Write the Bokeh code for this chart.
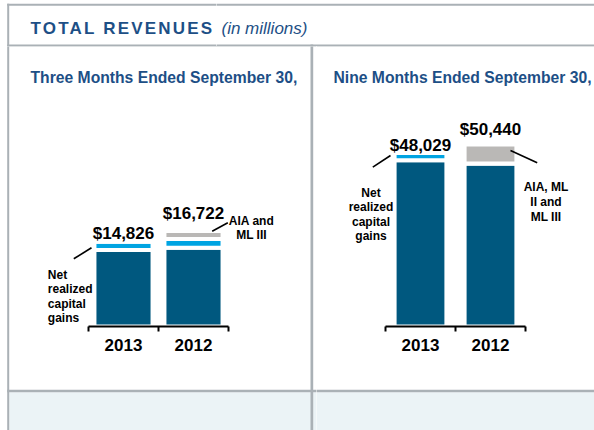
from bokeh.plotting import figure
from bokeh.models import (Range1d, FactorRange, CategoricalAxis, LinearAxis, FixedTicker,
                          ColumnDataSource)
from bokeh.layouts import column, row
from bokeh.embed import file_html
from bokeh.resources import INLINE
from bokeh.core.properties import value

# ---------------- data ----------------
years = ["2013", "2012"]
base_3m = [13390, 13790]
gains_3m = [1436, 1522]
aia_3m = [0, 1410]
total_3m = [14826, 16722]

base_9m = [46065, 45151]
gains_9m = [1964, 0]
aia_9m = [0, 5289]
total_9m = [48029, 50440]

title_text = "TOTAL REVENUES"
title_unit = "(in millions)"
panel_titles = ["Three Months Ended September 30,", "Nine Months Ended September 30,"]
note_gains = ["Net", "realized", "capital", "gains"]
note_aia_3m = ["AIA and", "ML III"]
note_aia_9m = ["AIA, ML", "II and", "ML III"]

# ---------------- styles ----------------
FONT = "Liberation Sans"
TXT_BLUE = "#1D4F86"
DARK = "#00587F"
LIGHT = "#00A4E2"
GRAY = "#BAB8B6"
RULE = "#AAB1B6"
STRIP = "#EBF3F6"

PAGE_W, PAGE_H = 594, 430
AXIS_Y = 326          # page y of the bars' baseline
PANEL_TOP = 46
SPLIT = 316           # page x where the two chart figures meet
UNIT = 70             # pixels per category


def base_fig(x0, x1, y0, y1, x_range=None, y_range=None, xmap=None):
    xmap = xmap or (lambda X: X)
    p = figure(width=x1 - x0, height=y1 - y0,
               x_range=x_range if x_range is not None else Range1d(x0, x1),
               y_range=y_range if y_range is not None else Range1d(y1, y0),
               output_backend="svg", toolbar_location=None, min_border=0,
               x_axis_type=None, y_axis_type=None)
    p.extra_y_ranges = {"page": Range1d(y1, y0)}
    p.outline_line_color = None
    p.background_fill_color = "white"
    p.border_fill_color = "white"
    # table frame: strip, rules
    rects = [
        (8.7, PAGE_W, 391.7, PAGE_H, STRIP),
        (6.7, 8.7, 3.3, PAGE_H, RULE),
        (6.7, PAGE_W, 3.3, 5.3, RULE),
        (6.7, PAGE_W, 44, 46.3, RULE),
        (310, 312.7, 44, PAGE_H, RULE),
        (6.7, PAGE_W, 389.3, 391.7, RULE),
    ]
    p.quad(left=[xmap(r[0]) for r in rects], right=[xmap(r[1]) for r in rects],
           top=[r[2] for r in rects], bottom=[r[3] for r in rects],
           fill_color=[r[4] for r in rects], line_color=None, y_range_name="page")
    return p


def page_text(p, xmap, xs, ys, texts, size, color="black", style="bold", align="left"):
    p.text(x=[xmap(x) for x in xs], y=ys, text=texts, y_range_name="page",
           text_font=value(FONT), text_font_size=size, text_font_style=style,
           text_color=color, text_align=align, text_baseline="alphabetic")


def panel(x0, x1, base, gains, aia, totals, s, bar_w, lifts, subtitle, sub_x):
    W = x1 - x0
    pad = W / UNIT - len(years)          # total padding, in category units
    xr = FactorRange(*years, factor_padding=0, range_padding=pad / 2,
                     range_padding_units="absolute")
    xmap = lambda X: (X - x0) / UNIT - pad / 2   # page x -> synthetic category coordinate
    yr = Range1d(-(PAGE_H - AXIS_Y) * s, (AXIS_Y - PANEL_TOP) * s)
    p = base_fig(x0, x1, PANEL_TOP, PAGE_H, x_range=xr, y_range=yr, xmap=xmap)

    src = ColumnDataSource(dict(year=years, base=base, gains=gains, aia=aia))
    p.vbar_stack(["base", "gains", "aia"], x="year", width=bar_w, source=src,
                 fill_color=[DARK, LIGHT, GRAY], line_color="white", line_width=4)

    labels = ["${:,}".format(t) for t in totals]
    p.text(x=years, y=[t + l * s for t, l in zip(totals, lifts)], text=labels,
           text_font=value(FONT), text_font_size="17px", text_font_style="bold",
           text_color="black", text_align="center", text_baseline="alphabetic")

    cat_ax = CategoricalAxis(fixed_location=0, axis_line_color=None,
                             major_tick_line_color=None, minor_tick_line_color=None,
                             major_tick_out=0, major_tick_in=0, major_label_standoff=12,
                             major_label_text_font=FONT, major_label_text_font_size="17px",
                             major_label_text_font_style="bold", major_label_text_color="black")
    p.add_layout(cat_ax, "below")
    line_ax = LinearAxis(fixed_location=0, ticker=FixedTicker(ticks=list(range(len(years) + 1))),
                         bounds=(0, len(years)), axis_line_color="black", axis_line_width=2,
                         major_tick_line_color="black", major_tick_line_width=2,
                         major_tick_out=5, major_tick_in=0, minor_tick_line_color=None,
                         major_label_text_color=None)
    p.add_layout(line_ax, "below")

    page_text(p, xmap, [sub_x], [76.7], [subtitle], "15.7px", color=TXT_BLUE)
    return p, xmap


ident = lambda X: X

# ---------------- title strip ----------------
t1 = base_fig(0, 216, 0, PANEL_TOP)
page_text(t1, ident, [30], [28], [title_text], "17px", color=TXT_BLUE)
t1.styles = {"letter-spacing": "2.2px"}
t2 = base_fig(216, PAGE_W, 0, PANEL_TOP)
page_text(t2, ident, [221], [28], [title_unit], "17px", color=TXT_BLUE, style="italic")

# ---------------- panels ----------------
left, lmap = panel(0, SPLIT, base_3m, gains_3m, aia_3m, total_3m, 175, 0.83, [8, 17], panel_titles[0], 30)
right, rmap = panel(SPLIT, PAGE_W, base_9m, gains_9m, aia_9m, total_9m, 277, 0.74, [8, 15], panel_titles[1], 333)

# notes and leader lines
page_text(left, lmap, [47.3] * 4, [274 + 14.5 * i for i in range(4)], note_gains, "12px")
page_text(left, lmap, [251] * 2, [220.5, 234.5], note_aia_3m, "12px", align="center")
left.segment(x0=[lmap(73.3), lmap(211.7)], y0=[258.3, 230.7], x1=[lmap(91), lmap(227.3)], y1=[247.3, 222.3],
             line_color="black", line_width=1.6, y_range_name="page")

page_text(right, rmap, [370.5] * 4, [192.7 + 14.2 * i for i in range(4)], note_gains, "12px", align="center")
page_text(right, rmap, [545.5] * 3, [186.7 + 15 * i for i in range(3)], note_aia_9m, "12px", align="center")
right.segment(x0=[rmap(372.3), rmap(510)], y0=[166.7, 150], x1=[rmap(390), rmap(536.7)], y1=[155, 162.3],
              line_color="black", line_width=1.6, y_range_name="page")

page = column(row(t1, t2, spacing=0), row(left, right, spacing=0), spacing=0)

open("out.html", "w").write(file_html(page, INLINE))
